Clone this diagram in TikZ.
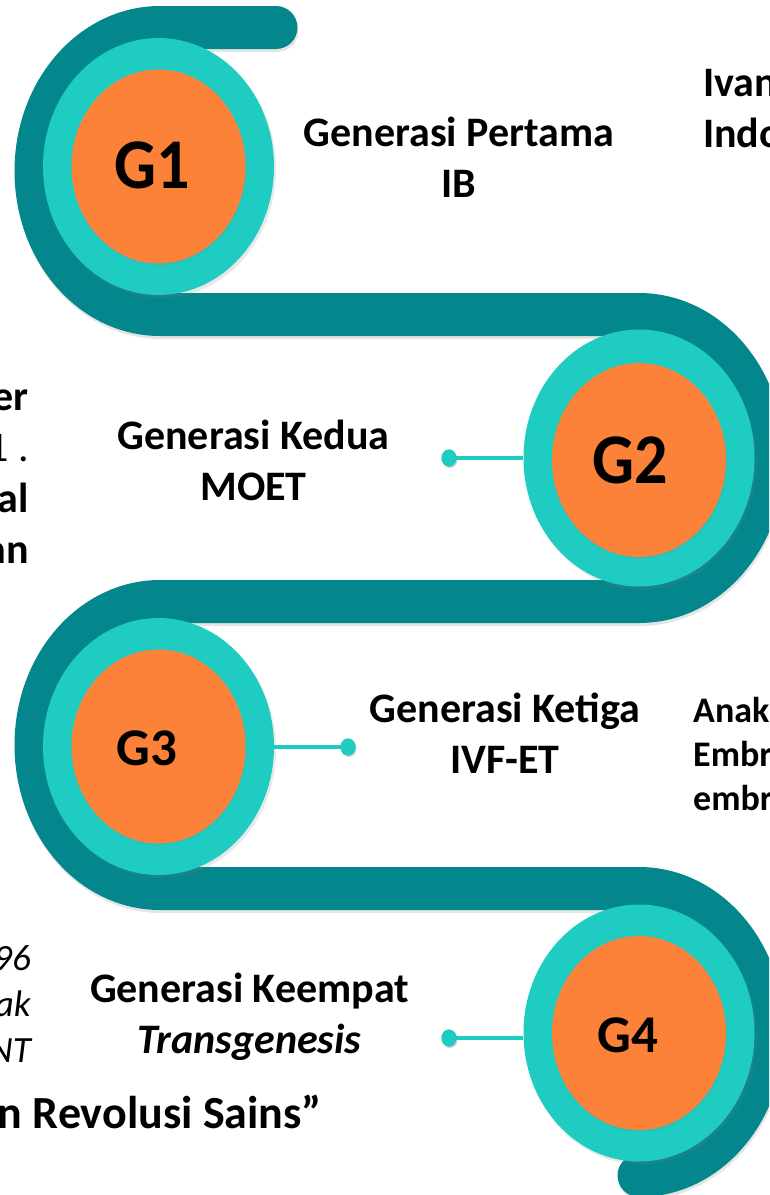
\documentclass[tikz,border=0pt]{standalone}
\usepackage{fontspec}
\setmainfont{Carlito}
\usetikzlibrary{shapes.geometric,shadows}
\definecolor{darkteal}{RGB}{3,135,140}
\definecolor{lightteal}{RGB}{30,204,194}
\definecolor{orng}{RGB}{252,130,57}
\begin{document}
\begin{tikzpicture}[x=1pt,y=1pt,
  band/.style={line width=43pt, line cap=round, color=darkteal},
  bandshadow/.style={line width=43pt, line cap=round, color=black, opacity=0.10},
  ring/.style={ellipse, fill=lightteal, minimum width=231pt, minimum height=257pt, inner sep=0pt,
    drop shadow={shadow xshift=2pt, shadow yshift=-3pt, opacity=0.18}},
  core/.style={ellipse, fill=orng, minimum width=174pt, minimum height=194pt, inner sep=0pt,
    drop shadow={shadow xshift=1pt, shadow yshift=-2pt, opacity=0.15}},
  conn/.style={lightteal, line width=3.5pt},
  dotnode/.style={ellipse, fill=lightteal, minimum width=15pt, minimum height=17pt, inner sep=0pt,
    drop shadow={shadow xshift=1pt, shadow yshift=-1.5pt, opacity=0.2}},
  gbig/.style={font=\bfseries\fontsize{66}{70}\selectfont, anchor=base, inner sep=0pt, yscale=1.08, transform shape},
  gsmall/.style={font=\bfseries\fontsize{53}{60}\selectfont, anchor=base, inner sep=0pt},
  lbl/.style={font=\bfseries\fontsize{42}{51}\selectfont, align=center, anchor=base, inner sep=0pt},
  sidetxt/.style={font=\bfseries\fontsize{42}{51}\selectfont, inner sep=0pt},
  smalltxt/.style={font=\bfseries\fontsize{36}{44}\selectfont, inner sep=0pt},
  ittxt/.style={font=\itshape\fontsize{37}{46}\selectfont, inner sep=0pt},
  bigtxt/.style={font=\bfseries\fontsize{46}{55}\selectfont, inner sep=0pt}
]
\useasboundingbox (0,0) rectangle (769,-1195);
\clip (0,0) rectangle (769,-1195);
\fill[white] (0,0) rectangle (769,-1195);

% band shadow and band
\draw[bandshadow] (277,-30.5) -- (161,-30.5)
  arc[start angle=90, end angle=270, x radius=124, y radius=143.5] -- (640,-317.5)
  arc[start angle=90, end angle=-90, x radius=124, y radius=143.5] -- (161,-604.5)
  arc[start angle=90, end angle=270, x radius=124, y radius=143.5] -- (640,-891.5)
  arc[start angle=90, end angle=-90, x radius=124, y radius=143.5];
\draw[band] (276,-27.5) -- (160,-27.5)
  arc[start angle=90, end angle=270, x radius=124, y radius=143.5] -- (639,-314.5)
  arc[start angle=90, end angle=-90, x radius=124, y radius=143.5] -- (160,-601.5)
  arc[start angle=90, end angle=270, x radius=124, y radius=143.5] -- (639,-888.5)
  arc[start angle=90, end angle=-90, x radius=124, y radius=143.5];

% circles
\node[ring] (c1) at (158.5,-166.5) {};
\node[core] (o1) at (158.5,-166.5) {};
\node[gbig] (t1) at (152.5,-188) {G1};

\node[ring] (c2) at (639,-458) {};
\node[core] (o2) at (639,-460) {};
\node[gbig] (t2) at (630,-483) {G2};

\node[ring] (c3) at (158.5,-746.5) {};
\node[core] (o3) at (158.5,-746.5) {};
\node[gsmall] (t3) at (147,-765) {G3};

\node[ring] (c4) at (639,-1033) {};
\node[core] (o4) at (639,-1033) {};
\node[gsmall] (t4) at (628,-1052) {G4};

% connectors
\node[dotnode] (d2) at (449,-458) {};
\node[dotnode] (d3) at (348,-747) {};
\node[dotnode] (d4) at (449,-1038) {};
\draw[conn] (d2.center) -- (d2.center -| c2.west);
\draw[conn] (d3.center) -- (d3.center -| c3.east);
\draw[conn] (d4.center) -- (d4.center -| c4.west);
\node[dotnode] at (d2) {};
\node[dotnode] at (d3) {};
\node[dotnode] at (d4) {};

% labels (anchor base = baseline of the last line)
\node[lbl] (l1) at (459,-197) {Generasi Pertama\\IB};
\node[lbl] (l2) at (253.5,-500) {Generasi Kedua\\MOET};
\node[lbl] (l3) at (505,-773) {Generasi Ketiga\\IVF-ET};
\node[lbl] (l4) at (249.5,-1053) {Generasi Keempat\\\textit{Transgenesis}};

% partial texts at the edges
\node[sidetxt, anchor=base west, align=left] (r1) at (703,-147) {Ivan\\Indo};
\node[smalltxt, anchor=base west, align=left] (r3) at (693,-810) {Anak\\Embr\\embr};
\node[sidetxt, anchor=base east, align=right] (p2) at (29,-563) {er\\{\mdseries 1 .}\\al\\an};
\node[ittxt, anchor=base east, align=right] (p4) at (31,-1062) {96\\ak\\NT};
\node[bigtxt, anchor=base east] (bt) at (322,-1128) {n Revolusi Sains”};
\end{tikzpicture}
\end{document}
